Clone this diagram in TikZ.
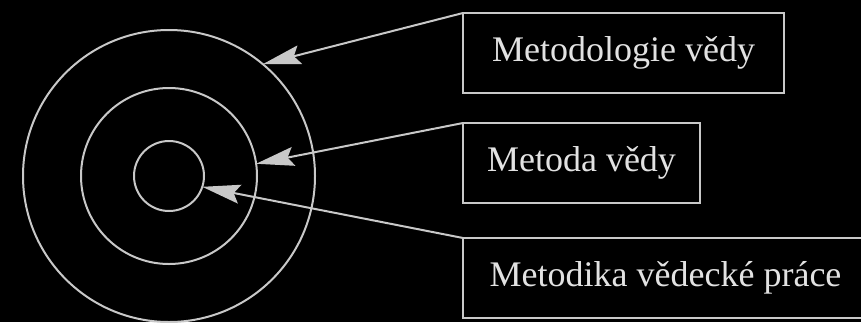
\documentclass[tikz,border=0pt]{standalone}
\usepackage{fontspec}
\setmainfont{Liberation Serif}
\usetikzlibrary{arrows.meta,positioning}
\definecolor{mvline}{HTML}{C8C8C8}
\definecolor{mvtext}{HTML}{E2E2E2}
\tikzset{
  mv/ring/.style={
    circle, draw=mvline, line width=2pt, inner sep=0pt, outer sep=0pt
  },
  mv/box/.style={
    draw=mvline, line width=2pt, minimum height=80pt, inner sep=0pt,
    outer sep=0pt, text=mvtext, font=\fontsize{36}{40}\selectfont
  },
  mv/arr/.style={-{Stealth[length=38pt, width=19pt, inset=6pt]}, mvline, line width=2pt}
}
\begin{document}
\begin{tikzpicture}[x=1pt, y=-1pt]
  \useasboundingbox (0,0) rectangle (861,322);
  \fill[black] (0,0) rectangle (861,322);
  \clip (0,0) rectangle (861,322);

  % three rings
  \node[mv/ring, minimum size=292pt] (outer) at (169,176) {};
  \node[mv/ring, minimum size=176pt] (middle) at (169,176) {};
  \node[mv/ring, minimum size=70pt] (inner) at (169,176) {};

  % labels
  \node[mv/box, minimum width=321pt, anchor=north west] (ml) at (463,13)
    {Metodologie vědy};
  \node[mv/box, minimum width=237pt, below=30pt of ml.south west, anchor=north west] (mt)
    {Metoda vědy};
  \node[mv/box, minimum width=405pt, below=35pt of mt.south west, anchor=north west] (mk)
    {Metodika vědecké práce};

  \draw[mv/arr] (ml.north west) -- (outer.50);
  \draw[mv/arr] (mt.north west) -- (middle.8);
  \draw[mv/arr] (mk.north west) -- (inner.-18);
\end{tikzpicture}
\end{document}
